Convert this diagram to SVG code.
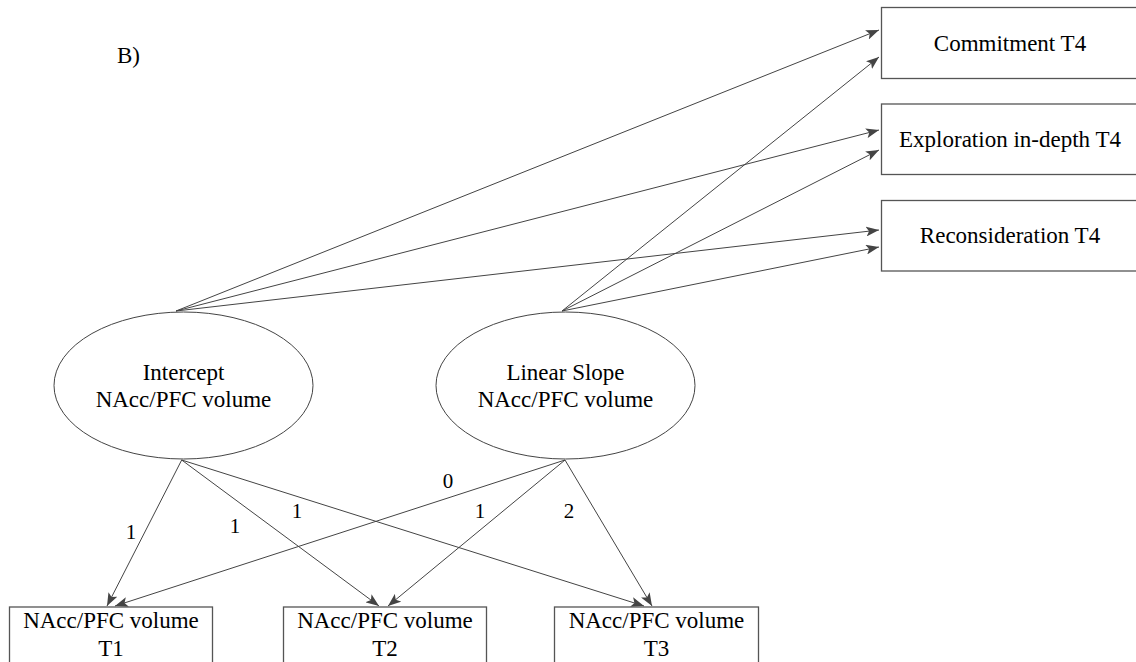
<svg xmlns="http://www.w3.org/2000/svg" width="1136" height="662" viewBox="0 0 1136 662">
<style>
.box{fill:#fff;stroke:#555;stroke-width:1.3}
.ell{fill:#fff;stroke:#444;stroke-width:1}
.t{font-size:23px;fill:#000;text-anchor:middle}
.lbl{font-size:21px;fill:#000;text-anchor:middle}
.c{stroke:#444;stroke-width:1;fill:none;marker-end:url(#ah)}
</style>
<defs>
<marker id="ah" markerUnits="userSpaceOnUse" markerWidth="14" markerHeight="10" refX="13" refY="5" orient="auto">
<path d="M0,0 L13,5 L0,10 L3,5 z" fill="#444"/>
</marker>
</defs>
<rect width="1136" height="662" fill="#fff"/>
<g font-family="'Liberation Serif', 'DejaVu Serif', serif">
<text x="117" y="63" class="t" style="text-anchor:start">B)</text>
<g id="connectors">
<line class="c" x1="176" y1="311" x2="879" y2="30"/>
<line class="c" x1="176" y1="311" x2="879" y2="130"/>
<line class="c" x1="176" y1="311" x2="879" y2="230"/>
<line class="c" x1="562" y1="311" x2="879" y2="57"/>
<line class="c" x1="562" y1="311" x2="879" y2="150"/>
<line class="c" x1="562" y1="311" x2="879" y2="247"/>
<line class="c" x1="181.7" y1="460" x2="107" y2="606"/>
<line class="c" x1="181.7" y1="460" x2="379" y2="606"/>
<line class="c" x1="181.7" y1="460" x2="644" y2="606"/>
<line class="c" x1="565" y1="460" x2="115" y2="606"/>
<line class="c" x1="565" y1="460" x2="388" y2="606"/>
<line class="c" x1="565" y1="460" x2="652" y2="606"/>
<text x="131" y="539" class="lbl">1</text>
<text x="235" y="533" class="lbl">1</text>
<text x="297" y="518" class="lbl">1</text>
<text x="448" y="488" class="lbl">0</text>
<text x="480" y="518" class="lbl">1</text>
<text x="569" y="518" class="lbl">2</text>
</g>
<g id="commitment">
<rect class="box" x="881.5" y="7.5" width="257" height="71"/>
<text x="1010" y="51" class="t">Commitment T4</text>
</g>
<g id="exploration">
<rect class="box" x="881.5" y="104" width="257" height="70.5"/>
<text x="1010" y="147" class="t">Exploration in-depth T4</text>
</g>
<g id="reconsideration">
<rect class="box" x="881.5" y="200.5" width="257" height="70.5"/>
<text x="1010" y="243" class="t">Reconsideration T4</text>
</g>
<g id="intercept">
<ellipse class="ell" cx="183.5" cy="385.5" rx="129.5" ry="73.5"/>
<text x="183.5" y="380" class="t">Intercept</text>
<text x="183.5" y="407" class="t">NAcc/PFC volume</text>
</g>
<g id="slope">
<ellipse class="ell" cx="565.5" cy="385.5" rx="129.5" ry="73.5"/>
<text x="565.5" y="380" class="t">Linear Slope</text>
<text x="565.5" y="407" class="t">NAcc/PFC volume</text>
</g>
<g id="t1">
<rect class="box" x="9.5" y="607" width="203" height="60"/>
<text x="111" y="628" class="t">NAcc/PFC volume</text>
<text x="111" y="656" class="t">T1</text>
</g>
<g id="t2">
<rect class="box" x="283.5" y="607" width="203" height="60"/>
<text x="385" y="628" class="t">NAcc/PFC volume</text>
<text x="385" y="656" class="t">T2</text>
</g>
<g id="t3">
<rect class="box" x="554.5" y="607" width="204" height="60"/>
<text x="656.5" y="628" class="t">NAcc/PFC volume</text>
<text x="656.5" y="656" class="t">T3</text>
</g>
</g>
</svg>
